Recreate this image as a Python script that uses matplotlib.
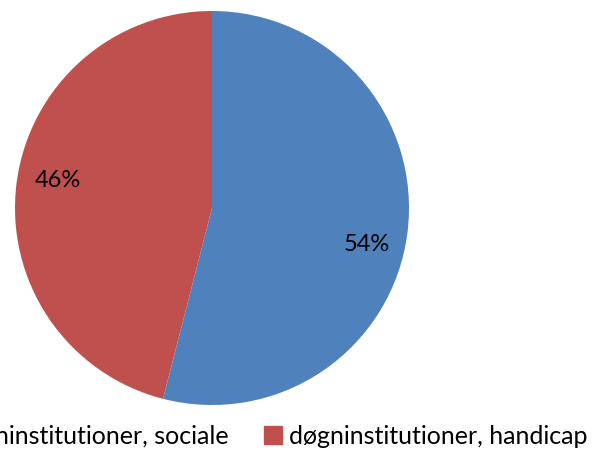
import matplotlib
matplotlib.use("Agg")
import matplotlib.pyplot as plt
import numpy as np

labels = ["døgninstitutioner, sociale", "døgninstitutioner, handicap"]
shares = [54, 46]
colors = ["#4F81BD", "#C0504D"]

plt.rcParams["font.family"] = ["Lato", "DejaVu Sans"]

W, H = 592, 451
fig = plt.figure(figsize=(W / 100, H / 100), dpi=100)
# pie centre at (212, 208) px, radius 197 px
ax = fig.add_axes([15 / W, (H - 405) / H, 394 / W, 394 / H])
wedges, texts, autotexts = ax.pie(
    shares, colors=colors, startangle=90, counterclock=False,
    autopct="%d%%", pctdistance=0.8, radius=1,
    textprops={"fontsize": 17, "color": "black"})
# Excel-style label placement sits a few degrees clockwise of the mid-angle
rot = np.deg2rad(-4.5)
for t in autotexts:
    x, y = t.get_position()
    t.set_position((x * np.cos(rot) - y * np.sin(rot),
                    x * np.sin(rot) + y * np.cos(rot) - 0.025))
ax.set_xlim(-1, 1)
ax.set_ylim(-1, 1)
ax.set_aspect("equal")
ax.axis("off")

handles = [plt.Rectangle((0, 0), 1, 1, color=c) for c in colors]
fig.legend(handles, labels, loc="lower right", bbox_to_anchor=(610 / W, -19 / H),
           ncol=2, frameon=False, fontsize=18, handlelength=0.7,
           handleheight=0.7, handletextpad=0.3, columnspacing=1.4)

fig.savefig("out.png", dpi=100)
